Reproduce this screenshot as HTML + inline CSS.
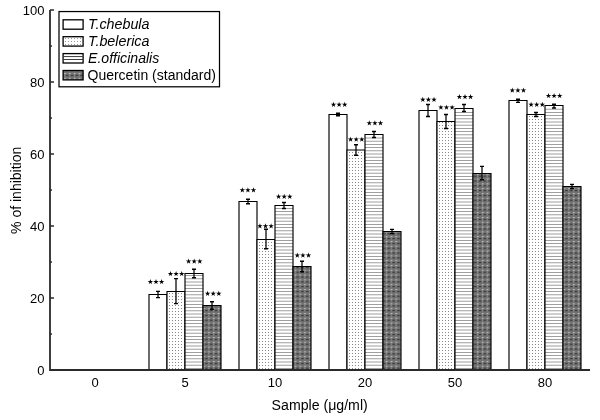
<!DOCTYPE html>
<html><head><meta charset="utf-8"><style>
html,body{margin:0;padding:0;background:#fff;}
svg{display:block;font-family:"Liberation Sans",sans-serif;}
</style></head><body>
<svg style="will-change:transform" width="600" height="420" viewBox="0 0 600 420">
<defs>
<pattern id="dots" width="3" height="3" patternUnits="userSpaceOnUse">
<rect width="3" height="3" fill="#fff"/><rect x="1" y="2" width="1" height="1" fill="#888"/>
</pattern>
<pattern id="hlines" width="3" height="3" patternUnits="userSpaceOnUse">
<rect width="3" height="3" fill="#fff"/><rect x="0" y="1" width="3" height="1" fill="#777"/>
</pattern>
<pattern id="dark" width="4.8" height="4.8" patternUnits="userSpaceOnUse">
<rect width="4.8" height="4.8" fill="#727272"/><rect x="1.8" y="1" width="1.6" height="1" fill="#d0d0d0"/><rect x="0" y="3" width="1.4" height="1" fill="#2a2a2a"/><rect x="3.4" y="3" width="1.4" height="1" fill="#2a2a2a"/><rect x="2.2" y="3" width="0.8" height="1" fill="#aaa"/>
</pattern>
</defs>
<rect width="600" height="420" fill="#fff"/>
<rect x="149" y="294.50" width="18" height="75.50" fill="#fff"/>
<path d="M149,370.0V294.5H167V370.0" fill="none" stroke="#000" stroke-width="1.15"/>
<rect x="167" y="291.50" width="18" height="78.50" fill="url(#dots)"/>
<path d="M167,370.0V291.5H185V370.0" fill="none" stroke="#000" stroke-width="1.15"/>
<rect x="185" y="273.50" width="18" height="96.50" fill="#fff"/>
<rect x="185" y="368.00" width="18" height="0.8" fill="#888"/>
<rect x="185" y="364.80" width="18" height="0.8" fill="#888"/>
<rect x="185" y="361.60" width="18" height="0.8" fill="#888"/>
<rect x="185" y="358.40" width="18" height="0.8" fill="#888"/>
<rect x="185" y="355.20" width="18" height="0.8" fill="#888"/>
<rect x="185" y="352.00" width="18" height="0.8" fill="#888"/>
<rect x="185" y="348.80" width="18" height="0.8" fill="#888"/>
<rect x="185" y="345.60" width="18" height="0.8" fill="#888"/>
<rect x="185" y="342.40" width="18" height="0.8" fill="#888"/>
<rect x="185" y="339.20" width="18" height="0.8" fill="#888"/>
<rect x="185" y="336.00" width="18" height="0.8" fill="#888"/>
<rect x="185" y="332.80" width="18" height="0.8" fill="#888"/>
<rect x="185" y="329.60" width="18" height="0.8" fill="#888"/>
<rect x="185" y="326.40" width="18" height="0.8" fill="#888"/>
<rect x="185" y="323.20" width="18" height="0.8" fill="#888"/>
<rect x="185" y="320.00" width="18" height="0.8" fill="#888"/>
<rect x="185" y="316.80" width="18" height="0.8" fill="#888"/>
<rect x="185" y="313.60" width="18" height="0.8" fill="#888"/>
<rect x="185" y="310.40" width="18" height="0.8" fill="#888"/>
<rect x="185" y="307.20" width="18" height="0.8" fill="#888"/>
<rect x="185" y="304.00" width="18" height="0.8" fill="#888"/>
<rect x="185" y="300.80" width="18" height="0.8" fill="#888"/>
<rect x="185" y="297.60" width="18" height="0.8" fill="#888"/>
<rect x="185" y="294.40" width="18" height="0.8" fill="#888"/>
<rect x="185" y="291.20" width="18" height="0.8" fill="#888"/>
<rect x="185" y="288.00" width="18" height="0.8" fill="#888"/>
<rect x="185" y="284.80" width="18" height="0.8" fill="#888"/>
<rect x="185" y="281.60" width="18" height="0.8" fill="#888"/>
<rect x="185" y="278.40" width="18" height="0.8" fill="#888"/>
<rect x="185" y="275.20" width="18" height="0.8" fill="#888"/>
<path d="M185,370.0V273.5H203V370.0" fill="none" stroke="#000" stroke-width="1.15"/>
<rect x="203" y="305.50" width="18" height="64.50" fill="url(#dark)"/>
<path d="M203,370.0V305.5H221V370.0" fill="none" stroke="#000" stroke-width="1.15"/>
<rect x="239" y="201.50" width="18" height="168.50" fill="#fff"/>
<path d="M239,370.0V201.5H257V370.0" fill="none" stroke="#000" stroke-width="1.15"/>
<rect x="257" y="239.50" width="18" height="130.50" fill="url(#dots)"/>
<path d="M257,370.0V239.5H275V370.0" fill="none" stroke="#000" stroke-width="1.15"/>
<rect x="275" y="205.50" width="18" height="164.50" fill="#fff"/>
<rect x="275" y="368.00" width="18" height="0.8" fill="#888"/>
<rect x="275" y="364.80" width="18" height="0.8" fill="#888"/>
<rect x="275" y="361.60" width="18" height="0.8" fill="#888"/>
<rect x="275" y="358.40" width="18" height="0.8" fill="#888"/>
<rect x="275" y="355.20" width="18" height="0.8" fill="#888"/>
<rect x="275" y="352.00" width="18" height="0.8" fill="#888"/>
<rect x="275" y="348.80" width="18" height="0.8" fill="#888"/>
<rect x="275" y="345.60" width="18" height="0.8" fill="#888"/>
<rect x="275" y="342.40" width="18" height="0.8" fill="#888"/>
<rect x="275" y="339.20" width="18" height="0.8" fill="#888"/>
<rect x="275" y="336.00" width="18" height="0.8" fill="#888"/>
<rect x="275" y="332.80" width="18" height="0.8" fill="#888"/>
<rect x="275" y="329.60" width="18" height="0.8" fill="#888"/>
<rect x="275" y="326.40" width="18" height="0.8" fill="#888"/>
<rect x="275" y="323.20" width="18" height="0.8" fill="#888"/>
<rect x="275" y="320.00" width="18" height="0.8" fill="#888"/>
<rect x="275" y="316.80" width="18" height="0.8" fill="#888"/>
<rect x="275" y="313.60" width="18" height="0.8" fill="#888"/>
<rect x="275" y="310.40" width="18" height="0.8" fill="#888"/>
<rect x="275" y="307.20" width="18" height="0.8" fill="#888"/>
<rect x="275" y="304.00" width="18" height="0.8" fill="#888"/>
<rect x="275" y="300.80" width="18" height="0.8" fill="#888"/>
<rect x="275" y="297.60" width="18" height="0.8" fill="#888"/>
<rect x="275" y="294.40" width="18" height="0.8" fill="#888"/>
<rect x="275" y="291.20" width="18" height="0.8" fill="#888"/>
<rect x="275" y="288.00" width="18" height="0.8" fill="#888"/>
<rect x="275" y="284.80" width="18" height="0.8" fill="#888"/>
<rect x="275" y="281.60" width="18" height="0.8" fill="#888"/>
<rect x="275" y="278.40" width="18" height="0.8" fill="#888"/>
<rect x="275" y="275.20" width="18" height="0.8" fill="#888"/>
<rect x="275" y="272.00" width="18" height="0.8" fill="#888"/>
<rect x="275" y="268.80" width="18" height="0.8" fill="#888"/>
<rect x="275" y="265.60" width="18" height="0.8" fill="#888"/>
<rect x="275" y="262.40" width="18" height="0.8" fill="#888"/>
<rect x="275" y="259.20" width="18" height="0.8" fill="#888"/>
<rect x="275" y="256.00" width="18" height="0.8" fill="#888"/>
<rect x="275" y="252.80" width="18" height="0.8" fill="#888"/>
<rect x="275" y="249.60" width="18" height="0.8" fill="#888"/>
<rect x="275" y="246.40" width="18" height="0.8" fill="#888"/>
<rect x="275" y="243.20" width="18" height="0.8" fill="#888"/>
<rect x="275" y="240.00" width="18" height="0.8" fill="#888"/>
<rect x="275" y="236.80" width="18" height="0.8" fill="#888"/>
<rect x="275" y="233.60" width="18" height="0.8" fill="#888"/>
<rect x="275" y="230.40" width="18" height="0.8" fill="#888"/>
<rect x="275" y="227.20" width="18" height="0.8" fill="#888"/>
<rect x="275" y="224.00" width="18" height="0.8" fill="#888"/>
<rect x="275" y="220.80" width="18" height="0.8" fill="#888"/>
<rect x="275" y="217.60" width="18" height="0.8" fill="#888"/>
<rect x="275" y="214.40" width="18" height="0.8" fill="#888"/>
<rect x="275" y="211.20" width="18" height="0.8" fill="#888"/>
<rect x="275" y="208.00" width="18" height="0.8" fill="#888"/>
<path d="M275,370.0V205.5H293V370.0" fill="none" stroke="#000" stroke-width="1.15"/>
<rect x="293" y="266.50" width="18" height="103.50" fill="url(#dark)"/>
<path d="M293,370.0V266.5H311V370.0" fill="none" stroke="#000" stroke-width="1.15"/>
<rect x="329" y="114.50" width="18" height="255.50" fill="#fff"/>
<path d="M329,370.0V114.5H347V370.0" fill="none" stroke="#000" stroke-width="1.15"/>
<rect x="347" y="150.00" width="18" height="220.00" fill="url(#dots)"/>
<path d="M347,370.0V150.0H365V370.0" fill="none" stroke="#000" stroke-width="1.15"/>
<rect x="365" y="134.50" width="18" height="235.50" fill="#fff"/>
<rect x="365" y="368.00" width="18" height="0.8" fill="#888"/>
<rect x="365" y="364.80" width="18" height="0.8" fill="#888"/>
<rect x="365" y="361.60" width="18" height="0.8" fill="#888"/>
<rect x="365" y="358.40" width="18" height="0.8" fill="#888"/>
<rect x="365" y="355.20" width="18" height="0.8" fill="#888"/>
<rect x="365" y="352.00" width="18" height="0.8" fill="#888"/>
<rect x="365" y="348.80" width="18" height="0.8" fill="#888"/>
<rect x="365" y="345.60" width="18" height="0.8" fill="#888"/>
<rect x="365" y="342.40" width="18" height="0.8" fill="#888"/>
<rect x="365" y="339.20" width="18" height="0.8" fill="#888"/>
<rect x="365" y="336.00" width="18" height="0.8" fill="#888"/>
<rect x="365" y="332.80" width="18" height="0.8" fill="#888"/>
<rect x="365" y="329.60" width="18" height="0.8" fill="#888"/>
<rect x="365" y="326.40" width="18" height="0.8" fill="#888"/>
<rect x="365" y="323.20" width="18" height="0.8" fill="#888"/>
<rect x="365" y="320.00" width="18" height="0.8" fill="#888"/>
<rect x="365" y="316.80" width="18" height="0.8" fill="#888"/>
<rect x="365" y="313.60" width="18" height="0.8" fill="#888"/>
<rect x="365" y="310.40" width="18" height="0.8" fill="#888"/>
<rect x="365" y="307.20" width="18" height="0.8" fill="#888"/>
<rect x="365" y="304.00" width="18" height="0.8" fill="#888"/>
<rect x="365" y="300.80" width="18" height="0.8" fill="#888"/>
<rect x="365" y="297.60" width="18" height="0.8" fill="#888"/>
<rect x="365" y="294.40" width="18" height="0.8" fill="#888"/>
<rect x="365" y="291.20" width="18" height="0.8" fill="#888"/>
<rect x="365" y="288.00" width="18" height="0.8" fill="#888"/>
<rect x="365" y="284.80" width="18" height="0.8" fill="#888"/>
<rect x="365" y="281.60" width="18" height="0.8" fill="#888"/>
<rect x="365" y="278.40" width="18" height="0.8" fill="#888"/>
<rect x="365" y="275.20" width="18" height="0.8" fill="#888"/>
<rect x="365" y="272.00" width="18" height="0.8" fill="#888"/>
<rect x="365" y="268.80" width="18" height="0.8" fill="#888"/>
<rect x="365" y="265.60" width="18" height="0.8" fill="#888"/>
<rect x="365" y="262.40" width="18" height="0.8" fill="#888"/>
<rect x="365" y="259.20" width="18" height="0.8" fill="#888"/>
<rect x="365" y="256.00" width="18" height="0.8" fill="#888"/>
<rect x="365" y="252.80" width="18" height="0.8" fill="#888"/>
<rect x="365" y="249.60" width="18" height="0.8" fill="#888"/>
<rect x="365" y="246.40" width="18" height="0.8" fill="#888"/>
<rect x="365" y="243.20" width="18" height="0.8" fill="#888"/>
<rect x="365" y="240.00" width="18" height="0.8" fill="#888"/>
<rect x="365" y="236.80" width="18" height="0.8" fill="#888"/>
<rect x="365" y="233.60" width="18" height="0.8" fill="#888"/>
<rect x="365" y="230.40" width="18" height="0.8" fill="#888"/>
<rect x="365" y="227.20" width="18" height="0.8" fill="#888"/>
<rect x="365" y="224.00" width="18" height="0.8" fill="#888"/>
<rect x="365" y="220.80" width="18" height="0.8" fill="#888"/>
<rect x="365" y="217.60" width="18" height="0.8" fill="#888"/>
<rect x="365" y="214.40" width="18" height="0.8" fill="#888"/>
<rect x="365" y="211.20" width="18" height="0.8" fill="#888"/>
<rect x="365" y="208.00" width="18" height="0.8" fill="#888"/>
<rect x="365" y="204.80" width="18" height="0.8" fill="#888"/>
<rect x="365" y="201.60" width="18" height="0.8" fill="#888"/>
<rect x="365" y="198.40" width="18" height="0.8" fill="#888"/>
<rect x="365" y="195.20" width="18" height="0.8" fill="#888"/>
<rect x="365" y="192.00" width="18" height="0.8" fill="#888"/>
<rect x="365" y="188.80" width="18" height="0.8" fill="#888"/>
<rect x="365" y="185.60" width="18" height="0.8" fill="#888"/>
<rect x="365" y="182.40" width="18" height="0.8" fill="#888"/>
<rect x="365" y="179.20" width="18" height="0.8" fill="#888"/>
<rect x="365" y="176.00" width="18" height="0.8" fill="#888"/>
<rect x="365" y="172.80" width="18" height="0.8" fill="#888"/>
<rect x="365" y="169.60" width="18" height="0.8" fill="#888"/>
<rect x="365" y="166.40" width="18" height="0.8" fill="#888"/>
<rect x="365" y="163.20" width="18" height="0.8" fill="#888"/>
<rect x="365" y="160.00" width="18" height="0.8" fill="#888"/>
<rect x="365" y="156.80" width="18" height="0.8" fill="#888"/>
<rect x="365" y="153.60" width="18" height="0.8" fill="#888"/>
<rect x="365" y="150.40" width="18" height="0.8" fill="#888"/>
<rect x="365" y="147.20" width="18" height="0.8" fill="#888"/>
<rect x="365" y="144.00" width="18" height="0.8" fill="#888"/>
<rect x="365" y="140.80" width="18" height="0.8" fill="#888"/>
<rect x="365" y="137.60" width="18" height="0.8" fill="#888"/>
<path d="M365,370.0V134.5H383V370.0" fill="none" stroke="#000" stroke-width="1.15"/>
<rect x="383" y="231.50" width="18" height="138.50" fill="url(#dark)"/>
<path d="M383,370.0V231.5H401V370.0" fill="none" stroke="#000" stroke-width="1.15"/>
<rect x="419" y="110.50" width="18" height="259.50" fill="#fff"/>
<path d="M419,370.0V110.5H437V370.0" fill="none" stroke="#000" stroke-width="1.15"/>
<rect x="437" y="121.50" width="18" height="248.50" fill="url(#dots)"/>
<path d="M437,370.0V121.5H455V370.0" fill="none" stroke="#000" stroke-width="1.15"/>
<rect x="455" y="108.50" width="18" height="261.50" fill="#fff"/>
<rect x="455" y="368.00" width="18" height="0.8" fill="#888"/>
<rect x="455" y="364.80" width="18" height="0.8" fill="#888"/>
<rect x="455" y="361.60" width="18" height="0.8" fill="#888"/>
<rect x="455" y="358.40" width="18" height="0.8" fill="#888"/>
<rect x="455" y="355.20" width="18" height="0.8" fill="#888"/>
<rect x="455" y="352.00" width="18" height="0.8" fill="#888"/>
<rect x="455" y="348.80" width="18" height="0.8" fill="#888"/>
<rect x="455" y="345.60" width="18" height="0.8" fill="#888"/>
<rect x="455" y="342.40" width="18" height="0.8" fill="#888"/>
<rect x="455" y="339.20" width="18" height="0.8" fill="#888"/>
<rect x="455" y="336.00" width="18" height="0.8" fill="#888"/>
<rect x="455" y="332.80" width="18" height="0.8" fill="#888"/>
<rect x="455" y="329.60" width="18" height="0.8" fill="#888"/>
<rect x="455" y="326.40" width="18" height="0.8" fill="#888"/>
<rect x="455" y="323.20" width="18" height="0.8" fill="#888"/>
<rect x="455" y="320.00" width="18" height="0.8" fill="#888"/>
<rect x="455" y="316.80" width="18" height="0.8" fill="#888"/>
<rect x="455" y="313.60" width="18" height="0.8" fill="#888"/>
<rect x="455" y="310.40" width="18" height="0.8" fill="#888"/>
<rect x="455" y="307.20" width="18" height="0.8" fill="#888"/>
<rect x="455" y="304.00" width="18" height="0.8" fill="#888"/>
<rect x="455" y="300.80" width="18" height="0.8" fill="#888"/>
<rect x="455" y="297.60" width="18" height="0.8" fill="#888"/>
<rect x="455" y="294.40" width="18" height="0.8" fill="#888"/>
<rect x="455" y="291.20" width="18" height="0.8" fill="#888"/>
<rect x="455" y="288.00" width="18" height="0.8" fill="#888"/>
<rect x="455" y="284.80" width="18" height="0.8" fill="#888"/>
<rect x="455" y="281.60" width="18" height="0.8" fill="#888"/>
<rect x="455" y="278.40" width="18" height="0.8" fill="#888"/>
<rect x="455" y="275.20" width="18" height="0.8" fill="#888"/>
<rect x="455" y="272.00" width="18" height="0.8" fill="#888"/>
<rect x="455" y="268.80" width="18" height="0.8" fill="#888"/>
<rect x="455" y="265.60" width="18" height="0.8" fill="#888"/>
<rect x="455" y="262.40" width="18" height="0.8" fill="#888"/>
<rect x="455" y="259.20" width="18" height="0.8" fill="#888"/>
<rect x="455" y="256.00" width="18" height="0.8" fill="#888"/>
<rect x="455" y="252.80" width="18" height="0.8" fill="#888"/>
<rect x="455" y="249.60" width="18" height="0.8" fill="#888"/>
<rect x="455" y="246.40" width="18" height="0.8" fill="#888"/>
<rect x="455" y="243.20" width="18" height="0.8" fill="#888"/>
<rect x="455" y="240.00" width="18" height="0.8" fill="#888"/>
<rect x="455" y="236.80" width="18" height="0.8" fill="#888"/>
<rect x="455" y="233.60" width="18" height="0.8" fill="#888"/>
<rect x="455" y="230.40" width="18" height="0.8" fill="#888"/>
<rect x="455" y="227.20" width="18" height="0.8" fill="#888"/>
<rect x="455" y="224.00" width="18" height="0.8" fill="#888"/>
<rect x="455" y="220.80" width="18" height="0.8" fill="#888"/>
<rect x="455" y="217.60" width="18" height="0.8" fill="#888"/>
<rect x="455" y="214.40" width="18" height="0.8" fill="#888"/>
<rect x="455" y="211.20" width="18" height="0.8" fill="#888"/>
<rect x="455" y="208.00" width="18" height="0.8" fill="#888"/>
<rect x="455" y="204.80" width="18" height="0.8" fill="#888"/>
<rect x="455" y="201.60" width="18" height="0.8" fill="#888"/>
<rect x="455" y="198.40" width="18" height="0.8" fill="#888"/>
<rect x="455" y="195.20" width="18" height="0.8" fill="#888"/>
<rect x="455" y="192.00" width="18" height="0.8" fill="#888"/>
<rect x="455" y="188.80" width="18" height="0.8" fill="#888"/>
<rect x="455" y="185.60" width="18" height="0.8" fill="#888"/>
<rect x="455" y="182.40" width="18" height="0.8" fill="#888"/>
<rect x="455" y="179.20" width="18" height="0.8" fill="#888"/>
<rect x="455" y="176.00" width="18" height="0.8" fill="#888"/>
<rect x="455" y="172.80" width="18" height="0.8" fill="#888"/>
<rect x="455" y="169.60" width="18" height="0.8" fill="#888"/>
<rect x="455" y="166.40" width="18" height="0.8" fill="#888"/>
<rect x="455" y="163.20" width="18" height="0.8" fill="#888"/>
<rect x="455" y="160.00" width="18" height="0.8" fill="#888"/>
<rect x="455" y="156.80" width="18" height="0.8" fill="#888"/>
<rect x="455" y="153.60" width="18" height="0.8" fill="#888"/>
<rect x="455" y="150.40" width="18" height="0.8" fill="#888"/>
<rect x="455" y="147.20" width="18" height="0.8" fill="#888"/>
<rect x="455" y="144.00" width="18" height="0.8" fill="#888"/>
<rect x="455" y="140.80" width="18" height="0.8" fill="#888"/>
<rect x="455" y="137.60" width="18" height="0.8" fill="#888"/>
<rect x="455" y="134.40" width="18" height="0.8" fill="#888"/>
<rect x="455" y="131.20" width="18" height="0.8" fill="#888"/>
<rect x="455" y="128.00" width="18" height="0.8" fill="#888"/>
<rect x="455" y="124.80" width="18" height="0.8" fill="#888"/>
<rect x="455" y="121.60" width="18" height="0.8" fill="#888"/>
<rect x="455" y="118.40" width="18" height="0.8" fill="#888"/>
<rect x="455" y="115.20" width="18" height="0.8" fill="#888"/>
<rect x="455" y="112.00" width="18" height="0.8" fill="#888"/>
<path d="M455,370.0V108.5H473V370.0" fill="none" stroke="#000" stroke-width="1.15"/>
<rect x="473" y="173.50" width="18" height="196.50" fill="url(#dark)"/>
<path d="M473,370.0V173.5H491V370.0" fill="none" stroke="#000" stroke-width="1.15"/>
<rect x="509" y="100.50" width="18" height="269.50" fill="#fff"/>
<path d="M509,370.0V100.5H527V370.0" fill="none" stroke="#000" stroke-width="1.15"/>
<rect x="527" y="114.50" width="18" height="255.50" fill="url(#dots)"/>
<path d="M527,370.0V114.5H545V370.0" fill="none" stroke="#000" stroke-width="1.15"/>
<rect x="545" y="105.50" width="18" height="264.50" fill="#fff"/>
<rect x="545" y="368.00" width="18" height="0.8" fill="#888"/>
<rect x="545" y="364.80" width="18" height="0.8" fill="#888"/>
<rect x="545" y="361.60" width="18" height="0.8" fill="#888"/>
<rect x="545" y="358.40" width="18" height="0.8" fill="#888"/>
<rect x="545" y="355.20" width="18" height="0.8" fill="#888"/>
<rect x="545" y="352.00" width="18" height="0.8" fill="#888"/>
<rect x="545" y="348.80" width="18" height="0.8" fill="#888"/>
<rect x="545" y="345.60" width="18" height="0.8" fill="#888"/>
<rect x="545" y="342.40" width="18" height="0.8" fill="#888"/>
<rect x="545" y="339.20" width="18" height="0.8" fill="#888"/>
<rect x="545" y="336.00" width="18" height="0.8" fill="#888"/>
<rect x="545" y="332.80" width="18" height="0.8" fill="#888"/>
<rect x="545" y="329.60" width="18" height="0.8" fill="#888"/>
<rect x="545" y="326.40" width="18" height="0.8" fill="#888"/>
<rect x="545" y="323.20" width="18" height="0.8" fill="#888"/>
<rect x="545" y="320.00" width="18" height="0.8" fill="#888"/>
<rect x="545" y="316.80" width="18" height="0.8" fill="#888"/>
<rect x="545" y="313.60" width="18" height="0.8" fill="#888"/>
<rect x="545" y="310.40" width="18" height="0.8" fill="#888"/>
<rect x="545" y="307.20" width="18" height="0.8" fill="#888"/>
<rect x="545" y="304.00" width="18" height="0.8" fill="#888"/>
<rect x="545" y="300.80" width="18" height="0.8" fill="#888"/>
<rect x="545" y="297.60" width="18" height="0.8" fill="#888"/>
<rect x="545" y="294.40" width="18" height="0.8" fill="#888"/>
<rect x="545" y="291.20" width="18" height="0.8" fill="#888"/>
<rect x="545" y="288.00" width="18" height="0.8" fill="#888"/>
<rect x="545" y="284.80" width="18" height="0.8" fill="#888"/>
<rect x="545" y="281.60" width="18" height="0.8" fill="#888"/>
<rect x="545" y="278.40" width="18" height="0.8" fill="#888"/>
<rect x="545" y="275.20" width="18" height="0.8" fill="#888"/>
<rect x="545" y="272.00" width="18" height="0.8" fill="#888"/>
<rect x="545" y="268.80" width="18" height="0.8" fill="#888"/>
<rect x="545" y="265.60" width="18" height="0.8" fill="#888"/>
<rect x="545" y="262.40" width="18" height="0.8" fill="#888"/>
<rect x="545" y="259.20" width="18" height="0.8" fill="#888"/>
<rect x="545" y="256.00" width="18" height="0.8" fill="#888"/>
<rect x="545" y="252.80" width="18" height="0.8" fill="#888"/>
<rect x="545" y="249.60" width="18" height="0.8" fill="#888"/>
<rect x="545" y="246.40" width="18" height="0.8" fill="#888"/>
<rect x="545" y="243.20" width="18" height="0.8" fill="#888"/>
<rect x="545" y="240.00" width="18" height="0.8" fill="#888"/>
<rect x="545" y="236.80" width="18" height="0.8" fill="#888"/>
<rect x="545" y="233.60" width="18" height="0.8" fill="#888"/>
<rect x="545" y="230.40" width="18" height="0.8" fill="#888"/>
<rect x="545" y="227.20" width="18" height="0.8" fill="#888"/>
<rect x="545" y="224.00" width="18" height="0.8" fill="#888"/>
<rect x="545" y="220.80" width="18" height="0.8" fill="#888"/>
<rect x="545" y="217.60" width="18" height="0.8" fill="#888"/>
<rect x="545" y="214.40" width="18" height="0.8" fill="#888"/>
<rect x="545" y="211.20" width="18" height="0.8" fill="#888"/>
<rect x="545" y="208.00" width="18" height="0.8" fill="#888"/>
<rect x="545" y="204.80" width="18" height="0.8" fill="#888"/>
<rect x="545" y="201.60" width="18" height="0.8" fill="#888"/>
<rect x="545" y="198.40" width="18" height="0.8" fill="#888"/>
<rect x="545" y="195.20" width="18" height="0.8" fill="#888"/>
<rect x="545" y="192.00" width="18" height="0.8" fill="#888"/>
<rect x="545" y="188.80" width="18" height="0.8" fill="#888"/>
<rect x="545" y="185.60" width="18" height="0.8" fill="#888"/>
<rect x="545" y="182.40" width="18" height="0.8" fill="#888"/>
<rect x="545" y="179.20" width="18" height="0.8" fill="#888"/>
<rect x="545" y="176.00" width="18" height="0.8" fill="#888"/>
<rect x="545" y="172.80" width="18" height="0.8" fill="#888"/>
<rect x="545" y="169.60" width="18" height="0.8" fill="#888"/>
<rect x="545" y="166.40" width="18" height="0.8" fill="#888"/>
<rect x="545" y="163.20" width="18" height="0.8" fill="#888"/>
<rect x="545" y="160.00" width="18" height="0.8" fill="#888"/>
<rect x="545" y="156.80" width="18" height="0.8" fill="#888"/>
<rect x="545" y="153.60" width="18" height="0.8" fill="#888"/>
<rect x="545" y="150.40" width="18" height="0.8" fill="#888"/>
<rect x="545" y="147.20" width="18" height="0.8" fill="#888"/>
<rect x="545" y="144.00" width="18" height="0.8" fill="#888"/>
<rect x="545" y="140.80" width="18" height="0.8" fill="#888"/>
<rect x="545" y="137.60" width="18" height="0.8" fill="#888"/>
<rect x="545" y="134.40" width="18" height="0.8" fill="#888"/>
<rect x="545" y="131.20" width="18" height="0.8" fill="#888"/>
<rect x="545" y="128.00" width="18" height="0.8" fill="#888"/>
<rect x="545" y="124.80" width="18" height="0.8" fill="#888"/>
<rect x="545" y="121.60" width="18" height="0.8" fill="#888"/>
<rect x="545" y="118.40" width="18" height="0.8" fill="#888"/>
<rect x="545" y="115.20" width="18" height="0.8" fill="#888"/>
<rect x="545" y="112.00" width="18" height="0.8" fill="#888"/>
<rect x="545" y="108.80" width="18" height="0.8" fill="#888"/>
<path d="M545,370.0V105.5H563V370.0" fill="none" stroke="#000" stroke-width="1.15"/>
<rect x="563" y="186.50" width="18" height="183.50" fill="url(#dark)"/>
<path d="M563,370.0V186.5H581V370.0" fill="none" stroke="#000" stroke-width="1.15"/>
<path d="M158.0,291.40V297.60" stroke="#000" stroke-width="1.25" fill="none"/>
<path d="M156.0,291.40H160.0M156.0,297.60H160.0" stroke="#000" stroke-width="1.4" fill="none"/>
<polygon points="150.40,278.95 151.05,280.91 153.11,280.92 151.45,282.14 152.08,284.11 150.40,282.90 148.72,284.11 149.35,282.14 147.69,280.92 149.75,280.91"/>
<polygon points="156.00,278.95 156.65,280.91 158.71,280.92 157.05,282.14 157.68,284.11 156.00,282.90 154.32,284.11 154.95,282.14 153.29,280.92 155.35,280.91"/>
<polygon points="161.60,278.95 162.25,280.91 164.31,280.92 162.65,282.14 163.28,284.11 161.60,282.90 159.92,284.11 160.55,282.14 158.89,280.92 160.95,280.91"/>
<path d="M176.0,278.60V303.60" stroke="#000" stroke-width="1.25" fill="none"/>
<path d="M174.0,278.60H178.0M174.0,303.60H178.0" stroke="#000" stroke-width="1.4" fill="none"/>
<polygon points="170.50,270.95 171.15,272.91 173.21,272.92 171.55,274.14 172.18,276.11 170.50,274.90 168.82,276.11 169.45,274.14 167.79,272.92 169.85,272.91"/>
<polygon points="176.10,270.95 176.75,272.91 178.81,272.92 177.15,274.14 177.78,276.11 176.10,274.90 174.42,276.11 175.05,274.14 173.39,272.92 175.45,272.91"/>
<polygon points="181.70,270.95 182.35,272.91 184.41,272.92 182.75,274.14 183.38,276.11 181.70,274.90 180.02,276.11 180.65,274.14 178.99,272.92 181.05,272.91"/>
<path d="M194.0,269.20V277.80" stroke="#000" stroke-width="1.25" fill="none"/>
<path d="M192.0,269.20H196.0M192.0,277.80H196.0" stroke="#000" stroke-width="1.4" fill="none"/>
<polygon points="188.60,258.55 189.25,260.51 191.31,260.52 189.65,261.74 190.28,263.71 188.60,262.50 186.92,263.71 187.55,261.74 185.89,260.52 187.95,260.51"/>
<polygon points="194.20,258.55 194.85,260.51 196.91,260.52 195.25,261.74 195.88,263.71 194.20,262.50 192.52,263.71 193.15,261.74 191.49,260.52 193.55,260.51"/>
<polygon points="199.80,258.55 200.45,260.51 202.51,260.52 200.85,261.74 201.48,263.71 199.80,262.50 198.12,263.71 198.75,261.74 197.09,260.52 199.15,260.51"/>
<path d="M212.0,301.80V309.20" stroke="#000" stroke-width="1.25" fill="none"/>
<path d="M210.0,301.80H214.0M210.0,309.20H214.0" stroke="#000" stroke-width="1.4" fill="none"/>
<polygon points="207.60,290.75 208.25,292.71 210.31,292.72 208.65,293.94 209.28,295.91 207.60,294.70 205.92,295.91 206.55,293.94 204.89,292.72 206.95,292.71"/>
<polygon points="213.20,290.75 213.85,292.71 215.91,292.72 214.25,293.94 214.88,295.91 213.20,294.70 211.52,295.91 212.15,293.94 210.49,292.72 212.55,292.71"/>
<polygon points="218.80,290.75 219.45,292.71 221.51,292.72 219.85,293.94 220.48,295.91 218.80,294.70 217.12,295.91 217.75,293.94 216.09,292.72 218.15,292.71"/>
<path d="M248.0,199.20V203.80" stroke="#000" stroke-width="1.25" fill="none"/>
<path d="M246.0,199.20H250.0M246.0,203.80H250.0" stroke="#000" stroke-width="1.4" fill="none"/>
<polygon points="242.30,187.25 242.95,189.21 245.01,189.22 243.35,190.44 243.98,192.41 242.30,191.20 240.62,192.41 241.25,190.44 239.59,189.22 241.65,189.21"/>
<polygon points="247.90,187.25 248.55,189.21 250.61,189.22 248.95,190.44 249.58,192.41 247.90,191.20 246.22,192.41 246.85,190.44 245.19,189.22 247.25,189.21"/>
<polygon points="253.50,187.25 254.15,189.21 256.21,189.22 254.55,190.44 255.18,192.41 253.50,191.20 251.82,192.41 252.45,190.44 250.79,189.22 252.85,189.21"/>
<path d="M266.0,229.30V248.80" stroke="#000" stroke-width="1.25" fill="none"/>
<path d="M264.0,229.30H268.0M264.0,248.80H268.0" stroke="#000" stroke-width="1.4" fill="none"/>
<polygon points="259.90,223.35 260.55,225.31 262.61,225.32 260.95,226.54 261.58,228.51 259.90,227.30 258.22,228.51 258.85,226.54 257.19,225.32 259.25,225.31"/>
<polygon points="265.50,223.35 266.15,225.31 268.21,225.32 266.55,226.54 267.18,228.51 265.50,227.30 263.82,228.51 264.45,226.54 262.79,225.32 264.85,225.31"/>
<polygon points="271.10,223.35 271.75,225.31 273.81,225.32 272.15,226.54 272.78,228.51 271.10,227.30 269.42,228.51 270.05,226.54 268.39,225.32 270.45,225.31"/>
<path d="M284.0,202.50V208.50" stroke="#000" stroke-width="1.25" fill="none"/>
<path d="M282.0,202.50H286.0M282.0,208.50H286.0" stroke="#000" stroke-width="1.4" fill="none"/>
<polygon points="278.60,193.75 279.25,195.71 281.31,195.72 279.65,196.94 280.28,198.91 278.60,197.70 276.92,198.91 277.55,196.94 275.89,195.72 277.95,195.71"/>
<polygon points="284.20,193.75 284.85,195.71 286.91,195.72 285.25,196.94 285.88,198.91 284.20,197.70 282.52,198.91 283.15,196.94 281.49,195.72 283.55,195.71"/>
<polygon points="289.80,193.75 290.45,195.71 292.51,195.72 290.85,196.94 291.48,198.91 289.80,197.70 288.12,198.91 288.75,196.94 287.09,195.72 289.15,195.71"/>
<path d="M302.0,261.20V271.80" stroke="#000" stroke-width="1.25" fill="none"/>
<path d="M300.0,261.20H304.0M300.0,271.80H304.0" stroke="#000" stroke-width="1.4" fill="none"/>
<polygon points="297.30,252.55 297.95,254.51 300.01,254.52 298.35,255.74 298.98,257.71 297.30,256.50 295.62,257.71 296.25,255.74 294.59,254.52 296.65,254.51"/>
<polygon points="302.90,252.55 303.55,254.51 305.61,254.52 303.95,255.74 304.58,257.71 302.90,256.50 301.22,257.71 301.85,255.74 300.19,254.52 302.25,254.51"/>
<polygon points="308.50,252.55 309.15,254.51 311.21,254.52 309.55,255.74 310.18,257.71 308.50,256.50 306.82,257.71 307.45,255.74 305.79,254.52 307.85,254.51"/>
<path d="M338.0,113.30V115.70" stroke="#000" stroke-width="1.25" fill="none"/>
<path d="M336.0,113.30H340.0M336.0,115.70H340.0" stroke="#000" stroke-width="1.4" fill="none"/>
<polygon points="333.50,101.85 334.15,103.81 336.21,103.82 334.55,105.04 335.18,107.01 333.50,105.80 331.82,107.01 332.45,105.04 330.79,103.82 332.85,103.81"/>
<polygon points="339.10,101.85 339.75,103.81 341.81,103.82 340.15,105.04 340.78,107.01 339.10,105.80 337.42,107.01 338.05,105.04 336.39,103.82 338.45,103.81"/>
<polygon points="344.70,101.85 345.35,103.81 347.41,103.82 345.75,105.04 346.38,107.01 344.70,105.80 343.02,107.01 343.65,105.04 341.99,103.82 344.05,103.81"/>
<path d="M356.0,144.80V155.20" stroke="#000" stroke-width="1.25" fill="none"/>
<path d="M354.0,144.80H358.0M354.0,155.20H358.0" stroke="#000" stroke-width="1.4" fill="none"/>
<polygon points="350.60,136.65 351.25,138.61 353.31,138.62 351.65,139.84 352.28,141.81 350.60,140.60 348.92,141.81 349.55,139.84 347.89,138.62 349.95,138.61"/>
<polygon points="356.20,136.65 356.85,138.61 358.91,138.62 357.25,139.84 357.88,141.81 356.20,140.60 354.52,141.81 355.15,139.84 353.49,138.62 355.55,138.61"/>
<polygon points="361.80,136.65 362.45,138.61 364.51,138.62 362.85,139.84 363.48,141.81 361.80,140.60 360.12,141.81 360.75,139.84 359.09,138.62 361.15,138.61"/>
<path d="M374.0,131.50V137.50" stroke="#000" stroke-width="1.25" fill="none"/>
<path d="M372.0,131.50H376.0M372.0,137.50H376.0" stroke="#000" stroke-width="1.4" fill="none"/>
<polygon points="369.30,120.35 369.95,122.31 372.01,122.32 370.35,123.54 370.98,125.51 369.30,124.30 367.62,125.51 368.25,123.54 366.59,122.32 368.65,122.31"/>
<polygon points="374.90,120.35 375.55,122.31 377.61,122.32 375.95,123.54 376.58,125.51 374.90,124.30 373.22,125.51 373.85,123.54 372.19,122.32 374.25,122.31"/>
<polygon points="380.50,120.35 381.15,122.31 383.21,122.32 381.55,123.54 382.18,125.51 380.50,124.30 378.82,125.51 379.45,123.54 377.79,122.32 379.85,122.31"/>
<path d="M392.0,229.40V233.60" stroke="#000" stroke-width="1.25" fill="none"/>
<path d="M390.0,229.40H394.0M390.0,233.60H394.0" stroke="#000" stroke-width="1.4" fill="none"/>
<path d="M428.0,104.50V116.50" stroke="#000" stroke-width="1.25" fill="none"/>
<path d="M426.0,104.50H430.0M426.0,116.50H430.0" stroke="#000" stroke-width="1.4" fill="none"/>
<polygon points="422.80,96.75 423.45,98.71 425.51,98.72 423.85,99.94 424.48,101.91 422.80,100.70 421.12,101.91 421.75,99.94 420.09,98.72 422.15,98.71"/>
<polygon points="428.40,96.75 429.05,98.71 431.11,98.72 429.45,99.94 430.08,101.91 428.40,100.70 426.72,101.91 427.35,99.94 425.69,98.72 427.75,98.71"/>
<polygon points="434.00,96.75 434.65,98.71 436.71,98.72 435.05,99.94 435.68,101.91 434.00,100.70 432.32,101.91 432.95,99.94 431.29,98.72 433.35,98.71"/>
<path d="M446.0,114.50V128.50" stroke="#000" stroke-width="1.25" fill="none"/>
<path d="M444.0,114.50H448.0M444.0,128.50H448.0" stroke="#000" stroke-width="1.4" fill="none"/>
<polygon points="440.90,104.65 441.55,106.61 443.61,106.62 441.95,107.84 442.58,109.81 440.90,108.60 439.22,109.81 439.85,107.84 438.19,106.62 440.25,106.61"/>
<polygon points="446.50,104.65 447.15,106.61 449.21,106.62 447.55,107.84 448.18,109.81 446.50,108.60 444.82,109.81 445.45,107.84 443.79,106.62 445.85,106.61"/>
<polygon points="452.10,104.65 452.75,106.61 454.81,106.62 453.15,107.84 453.78,109.81 452.10,108.60 450.42,109.81 451.05,107.84 449.39,106.62 451.45,106.61"/>
<path d="M464.0,104.50V111.50" stroke="#000" stroke-width="1.25" fill="none"/>
<path d="M462.0,104.50H466.0M462.0,111.50H466.0" stroke="#000" stroke-width="1.4" fill="none"/>
<polygon points="459.40,94.05 460.05,96.01 462.11,96.02 460.45,97.24 461.08,99.21 459.40,98.00 457.72,99.21 458.35,97.24 456.69,96.02 458.75,96.01"/>
<polygon points="465.00,94.05 465.65,96.01 467.71,96.02 466.05,97.24 466.68,99.21 465.00,98.00 463.32,99.21 463.95,97.24 462.29,96.02 464.35,96.01"/>
<polygon points="470.60,94.05 471.25,96.01 473.31,96.02 471.65,97.24 472.28,99.21 470.60,98.00 468.92,99.21 469.55,97.24 467.89,96.02 469.95,96.01"/>
<path d="M482.0,166.40V179.80" stroke="#000" stroke-width="1.25" fill="none"/>
<path d="M480.0,166.40H484.0M480.0,179.80H484.0" stroke="#000" stroke-width="1.4" fill="none"/>
<path d="M518.0,99.30V102.40" stroke="#000" stroke-width="1.25" fill="none"/>
<path d="M516.0,99.30H520.0M516.0,102.40H520.0" stroke="#000" stroke-width="1.4" fill="none"/>
<polygon points="512.30,87.55 512.95,89.51 515.01,89.52 513.35,90.74 513.98,92.71 512.30,91.50 510.62,92.71 511.25,90.74 509.59,89.52 511.65,89.51"/>
<polygon points="517.90,87.55 518.55,89.51 520.61,89.52 518.95,90.74 519.58,92.71 517.90,91.50 516.22,92.71 516.85,90.74 515.19,89.52 517.25,89.51"/>
<polygon points="523.50,87.55 524.15,89.51 526.21,89.52 524.55,90.74 525.18,92.71 523.50,91.50 521.82,92.71 522.45,90.74 520.79,89.52 522.85,89.51"/>
<path d="M536.0,112.50V116.50" stroke="#000" stroke-width="1.25" fill="none"/>
<path d="M534.0,112.50H538.0M534.0,116.50H538.0" stroke="#000" stroke-width="1.4" fill="none"/>
<polygon points="531.10,101.85 531.75,103.81 533.81,103.82 532.15,105.04 532.78,107.01 531.10,105.80 529.42,107.01 530.05,105.04 528.39,103.82 530.45,103.81"/>
<polygon points="536.70,101.85 537.35,103.81 539.41,103.82 537.75,105.04 538.38,107.01 536.70,105.80 535.02,107.01 535.65,105.04 533.99,103.82 536.05,103.81"/>
<polygon points="542.30,101.85 542.95,103.81 545.01,103.82 543.35,105.04 543.98,107.01 542.30,105.80 540.62,107.01 541.25,105.04 539.59,103.82 541.65,103.81"/>
<path d="M554.0,104.30V108.00" stroke="#000" stroke-width="1.25" fill="none"/>
<path d="M552.0,104.30H556.0M552.0,108.00H556.0" stroke="#000" stroke-width="1.4" fill="none"/>
<polygon points="548.50,92.95 549.15,94.91 551.21,94.92 549.55,96.14 550.18,98.11 548.50,96.90 546.82,98.11 547.45,96.14 545.79,94.92 547.85,94.91"/>
<polygon points="554.10,92.95 554.75,94.91 556.81,94.92 555.15,96.14 555.78,98.11 554.10,96.90 552.42,98.11 553.05,96.14 551.39,94.92 553.45,94.91"/>
<polygon points="559.70,92.95 560.35,94.91 562.41,94.92 560.75,96.14 561.38,98.11 559.70,96.90 558.02,98.11 558.65,96.14 556.99,94.92 559.05,94.91"/>
<path d="M572.0,184.40V188.60" stroke="#000" stroke-width="1.25" fill="none"/>
<path d="M570.0,184.40H574.0M570.0,188.60H574.0" stroke="#000" stroke-width="1.4" fill="none"/>
<path d="M50,10V370.8M49.1,370H590" stroke="#2a2a2a" stroke-width="1.8" fill="none"/>
<path d="M50,370.00h4" stroke="#2a2a2a" stroke-width="1.5"/><path d="M50,334.00h2" stroke="#2a2a2a" stroke-width="1.5"/><path d="M50,298.00h4" stroke="#2a2a2a" stroke-width="1.5"/><path d="M50,262.00h2" stroke="#2a2a2a" stroke-width="1.5"/><path d="M50,226.00h4" stroke="#2a2a2a" stroke-width="1.5"/><path d="M50,190.00h2" stroke="#2a2a2a" stroke-width="1.5"/><path d="M50,154.00h4" stroke="#2a2a2a" stroke-width="1.5"/><path d="M50,118.00h2" stroke="#2a2a2a" stroke-width="1.5"/><path d="M50,82.00h4" stroke="#2a2a2a" stroke-width="1.5"/><path d="M50,46.00h2" stroke="#2a2a2a" stroke-width="1.5"/><path d="M50,10.00h4" stroke="#2a2a2a" stroke-width="1.5"/>
<g font-size="13" fill="#000">
<text x="44.5" y="374.50" text-anchor="end">0</text><text x="44.5" y="302.50" text-anchor="end">20</text><text x="44.5" y="230.50" text-anchor="end">40</text><text x="44.5" y="158.50" text-anchor="end">60</text><text x="44.5" y="86.50" text-anchor="end">80</text><text x="44.5" y="14.50" text-anchor="end">100</text>
<text x="95" y="387.2" text-anchor="middle">0</text><text x="185" y="387.2" text-anchor="middle">5</text><text x="275" y="387.2" text-anchor="middle">10</text><text x="365" y="387.2" text-anchor="middle">20</text><text x="455" y="387.2" text-anchor="middle">50</text><text x="545" y="387.2" text-anchor="middle">80</text>
<text x="271.6" y="410.4" font-size="14.15">Sample (μg/ml)</text>
<text transform="translate(21,233.9) rotate(-90)" font-size="14">% of inhibition</text>
</g>
<g>
<rect x="59" y="11.55" width="160.5" height="75.25" fill="#fff" stroke="#000" stroke-width="1.25"/>
<rect x="63.1" y="19.8" width="20" height="9.4" fill="#fff" stroke="#000" stroke-width="1.3"/>
<rect x="63.1" y="36.7" width="20" height="9.4" fill="#fff" stroke="#000" stroke-width="1.3"/>
<rect x="65" y="38" width="1" height="1" fill="#999"/><rect x="65" y="41" width="1" height="1" fill="#999"/><rect x="65" y="44" width="1" height="1" fill="#999"/><rect x="68" y="38" width="1" height="1" fill="#999"/><rect x="68" y="41" width="1" height="1" fill="#999"/><rect x="68" y="44" width="1" height="1" fill="#999"/><rect x="71" y="38" width="1" height="1" fill="#999"/><rect x="71" y="41" width="1" height="1" fill="#999"/><rect x="71" y="44" width="1" height="1" fill="#999"/><rect x="74" y="38" width="1" height="1" fill="#999"/><rect x="74" y="41" width="1" height="1" fill="#999"/><rect x="74" y="44" width="1" height="1" fill="#999"/><rect x="77" y="38" width="1" height="1" fill="#999"/><rect x="77" y="41" width="1" height="1" fill="#999"/><rect x="77" y="44" width="1" height="1" fill="#999"/><rect x="80" y="38" width="1" height="1" fill="#999"/><rect x="80" y="41" width="1" height="1" fill="#999"/><rect x="80" y="44" width="1" height="1" fill="#999"/>
<rect x="63.1" y="53.6" width="20" height="9.4" fill="#fff" stroke="#000" stroke-width="1.3"/>
<rect x="64" y="56.1" width="19" height="0.95" fill="#333"/><rect x="64" y="59" width="19" height="0.95" fill="#333"/>
<rect x="63.1" y="70.5" width="20" height="9.4" fill="url(#dark)" stroke="#000" stroke-width="1.3"/>
<g font-size="14">
<text x="88" y="28.9" font-style="italic" font-size="14.3">T.chebula</text>
<text x="88" y="45.6" font-style="italic" font-size="14.3">T.belerica</text>
<text x="88" y="62.6" font-style="italic" font-size="14.1">E.officinalis</text>
<text x="87.5" y="79.9">Quercetin (standard)</text>
</g>
</g>
</svg>
</body></html>
